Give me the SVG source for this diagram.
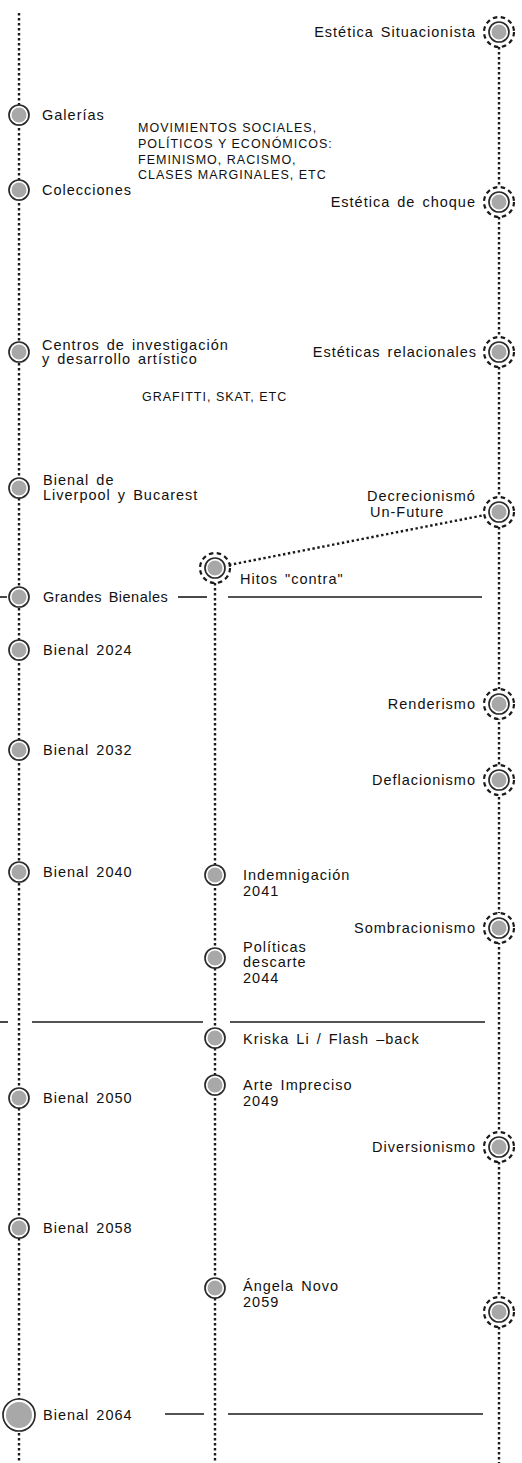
<svg xmlns="http://www.w3.org/2000/svg" width="522" height="1463" viewBox="0 0 522 1463">
<style>
.dot{stroke:#1a1a1a;stroke-width:2.4;stroke-dasharray:2.4 2.6;fill:none}
.rule{stroke:#1a1a1a;stroke-width:1.6;fill:none}
.ring{fill:#fff;stroke:#2a2a2a;stroke-width:1.7}
.core{fill:#a8a8a8;stroke:none}
.halo{fill:#fff;stroke:#1a1a1a;stroke-width:2.2;stroke-dasharray:4.5 3.5}
.lbl{font-family:"Liberation Sans","DejaVu Sans",sans-serif;font-size:14.5px;fill:#111;letter-spacing:1px;word-spacing:2px}
.caps{font-family:"Liberation Sans","DejaVu Sans",sans-serif;font-size:12.5px;fill:#111;letter-spacing:1px}
.end{text-anchor:end}
</style>
<defs>
<g id="nodeL"><circle class="ring" r="10"/><circle class="core" r="7.5"/></g>
<g id="nodeR"><circle class="halo" r="15"/><circle class="ring" r="10"/><circle class="core" r="7.5"/></g>
</defs>
<g id="connectors">
<line class="dot" x1="19" y1="13" x2="19" y2="1463"/>
<line class="dot" x1="499" y1="32" x2="499" y2="1463"/>
<line class="dot" x1="215" y1="568" x2="215" y2="1463"/>
<line class="dot" x1="229" y1="565" x2="485" y2="515"/>
<line class="rule" x1="0" y1="597" x2="7" y2="597"/>
<line class="rule" x1="178" y1="597" x2="207" y2="597"/>
<line class="rule" x1="228" y1="597" x2="482" y2="597"/>
<line class="rule" x1="0" y1="1022" x2="8" y2="1022"/>
<line class="rule" x1="32" y1="1022" x2="203" y2="1022"/>
<line class="rule" x1="230" y1="1022" x2="485" y2="1022"/>
<line class="rule" x1="165" y1="1414" x2="204" y2="1414"/>
<line class="rule" x1="228" y1="1414" x2="483" y2="1414"/>
</g>
<g id="n-situacionista"><use href="#nodeR" x="499" y="32"/><text class="lbl end" x="476" y="37">Estética Situacionista</text></g>
<g id="n-galerias"><use href="#nodeL" x="19" y="115"/><text class="lbl" x="42" y="120">Galerías</text></g>
<g id="t-movimientos"><text class="caps" x="138" y="132">MOVIMIENTOS SOCIALES,</text><text class="caps" x="138" y="148">POLÍTICOS Y ECONÓMICOS:</text><text class="caps" x="138" y="164">FEMINISMO, RACISMO,</text><text class="caps" x="138" y="179">CLASES MARGINALES, ETC</text></g>
<g id="n-colecciones"><use href="#nodeL" x="19" y="190"/><text class="lbl" x="42" y="195">Colecciones</text></g>
<g id="n-choque"><use href="#nodeR" x="499" y="202"/><text class="lbl end" x="476" y="207">Estética de choque</text></g>
<g id="n-centros"><use href="#nodeL" x="19" y="352"/><text class="lbl" x="42" y="350">Centros de investigación</text><text class="lbl" x="42" y="364">y desarrollo artístico</text></g>
<g id="n-relacionales"><use href="#nodeR" x="499" y="352"/><text class="lbl end" x="477" y="357">Estéticas relacionales</text></g>
<g id="t-grafitti"><text class="caps" x="142" y="401">GRAFITTI, SKAT, ETC</text></g>
<g id="n-liverpool"><use href="#nodeL" x="19" y="488"/><text class="lbl" x="43" y="485">Bienal de</text><text class="lbl" x="43" y="500">Liverpool y Bucarest</text></g>
<g id="n-decrecionismo"><use href="#nodeR" x="499" y="512"/><text class="lbl" x="367" y="501">Decrecionismó</text><text class="lbl" x="370" y="517" font-size="13">Un-Future</text></g>
<g id="n-hitos"><use href="#nodeR" x="215" y="568"/><text class="lbl" x="240" y="584">Hitos "contra"</text></g>
<g id="n-grandes"><use href="#nodeL" x="19" y="597"/><text class="lbl" x="43" y="602" style="letter-spacing:0.5px">Grandes Bienales</text></g>
<g id="n-2024"><use href="#nodeL" x="19" y="650"/><text class="lbl" x="43" y="655" word-spacing="8">Bienal 2024</text></g>
<g id="n-renderismo"><use href="#nodeR" x="499" y="704"/><text class="lbl end" x="476" y="709">Renderismo</text></g>
<g id="n-2032"><use href="#nodeL" x="19" y="750"/><text class="lbl" x="43" y="755" word-spacing="8">Bienal 2032</text></g>
<g id="n-deflacionismo"><use href="#nodeR" x="499" y="780"/><text class="lbl end" x="476" y="785">Deflacionismo</text></g>
<g id="n-2040"><use href="#nodeL" x="19" y="872"/><text class="lbl" x="43" y="877">Bienal 2040</text></g>
<g id="n-indemnigacion"><use href="#nodeL" x="215" y="875"/><text class="lbl" x="243" y="880">Indemnigación</text><text class="lbl" x="243" y="896">2041</text></g>
<g id="n-sombracionismo"><use href="#nodeR" x="499" y="928"/><text class="lbl end" x="476" y="933">Sombracionismo</text></g>
<g id="n-politicas"><use href="#nodeL" x="215" y="958"/><text class="lbl" x="243" y="952">Políticas</text><text class="lbl" x="243" y="967">descarte</text><text class="lbl" x="243" y="983">2044</text></g>
<g id="n-kriska"><use href="#nodeL" x="215" y="1038"/><text class="lbl" x="243" y="1044" word-spacing="5">Kriska Li / Flash –back</text></g>
<g id="n-impreciso"><use href="#nodeL" x="215" y="1085"/><text class="lbl" x="243" y="1090">Arte Impreciso</text><text class="lbl" x="243" y="1106">2049</text></g>
<g id="n-2050"><use href="#nodeL" x="19" y="1098"/><text class="lbl" x="43" y="1103">Bienal 2050</text></g>
<g id="n-diversionismo"><use href="#nodeR" x="499" y="1147"/><text class="lbl end" x="476" y="1152">Diversionismo</text></g>
<g id="n-2058"><use href="#nodeL" x="19" y="1228"/><text class="lbl" x="43" y="1233">Bienal 2058</text></g>
<g id="n-angela"><use href="#nodeL" x="215" y="1288"/><text class="lbl" x="243" y="1291">Ángela Novo</text><text class="lbl" x="243" y="1307">2059</text></g>
<g id="n-final"><use href="#nodeR" x="499" y="1312"/></g>
<g id="n-2064"><circle class="ring" cx="19" cy="1415" r="16"/><circle class="core" cx="19" cy="1415" r="13"/><text class="lbl" x="43" y="1420">Bienal 2064</text></g>
</svg>
